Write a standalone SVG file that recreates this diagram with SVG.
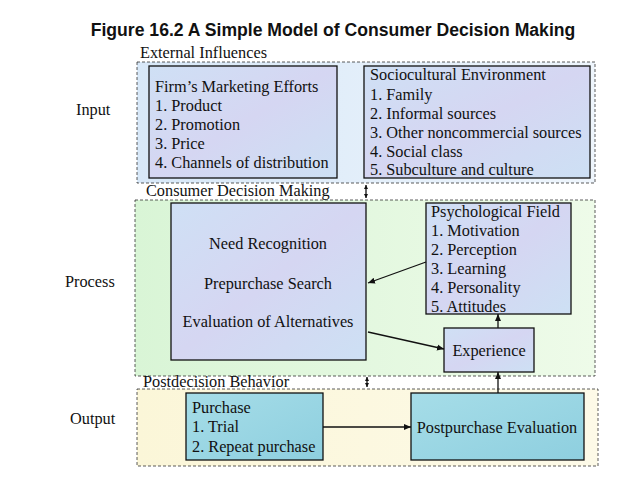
<svg xmlns="http://www.w3.org/2000/svg" width="638" height="479" viewBox="0 0 638 479">
<style>
text{font-family:"Liberation Serif",serif;font-size:16.3px;fill:#111}
.title{font-family:"Liberation Sans",sans-serif;font-weight:bold;font-size:17.6px}
.cont{stroke:#333;stroke-width:0.8;stroke-dasharray:3 2}
.box{fill:url(#bx);stroke:#111;stroke-width:1.3}
.water{fill:url(#wt);stroke:#111;stroke-width:1.3}
.c line{stroke:#111;stroke-width:1.3}
</style>
<defs>
<linearGradient id="gb" x1="0" y1="0" x2="1" y2="0"><stop offset="0" stop-color="#d8e8f8"/><stop offset="1" stop-color="#eef5fc"/></linearGradient>
<linearGradient id="gg" x1="0" y1="0" x2="1" y2="0"><stop offset="0" stop-color="#d9f5d6"/><stop offset="1" stop-color="#eefbe9"/></linearGradient>
<linearGradient id="gy" x1="0" y1="0" x2="1" y2="0"><stop offset="0" stop-color="#fbf6d8"/><stop offset="1" stop-color="#fdfae8"/></linearGradient>
<linearGradient id="bx" x1="0" y1="0" x2="1" y2="1"><stop offset="0" stop-color="#cfe0f5"/><stop offset="0.5" stop-color="#d5d6f2"/><stop offset="1" stop-color="#cde0f4"/></linearGradient>
<linearGradient id="wt" x1="0" y1="0" x2="1" y2="1"><stop offset="0" stop-color="#a6dde8"/><stop offset="1" stop-color="#8ecfdf"/></linearGradient>
<marker id="ar" markerWidth="8" markerHeight="8" refX="7" refY="4" orient="auto" markerUnits="userSpaceOnUse"><path d="M0,1 L7,4 L0,7 z" fill="#111"/></marker>
<marker id="sm" markerWidth="5" markerHeight="5" refX="4" refY="2.5" orient="auto-start-reverse" markerUnits="userSpaceOnUse"><path d="M0,0.5 L4,2.5 L0,4.5 z" fill="#111"/></marker>
</defs>
<rect width="638" height="479" fill="#fff"/>
<text class="title" x="333" y="36" text-anchor="middle">Figure 16.2  A Simple Model of Consumer Decision Making</text>
<g id="labels"><text x="76" y="115">Input</text><text x="65" y="287">Process</text><text x="70" y="424">Output</text></g>
<g id="external"><rect class="cont" x="137" y="62" width="458" height="121" fill="url(#gb)"/><text x="140" y="58">External Influences</text></g>
<g id="firm"><rect class="box" x="149" y="66" width="188" height="112"/>
<text x="155" y="92">Firm’s Marketing Efforts</text><text x="155" y="111">1. Product</text><text x="155" y="130">2. Promotion</text><text x="155" y="149">3. Price</text><text x="155" y="168">4. Channels of distribution</text></g>
<g id="socio"><rect class="box" x="364" y="66" width="226" height="112"/>
<text x="370" y="80">Sociocultural Environment</text><text x="370" y="100">1. Family</text><text x="370" y="119">2. Informal sources</text><text x="370" y="138">3. Other noncommercial sources</text><text x="370" y="157">4. Social class</text><text x="370" y="175">5. Subculture and culture</text></g>
<g id="cdm"><rect class="cont" x="135" y="200" width="460" height="176" fill="url(#gg)"/><text x="146" y="196">Consumer Decision Making</text></g>
<g id="need"><rect class="box" x="171" y="203" width="195" height="157"/>
<text x="268" y="249" text-anchor="middle">Need Recognition</text><text x="268" y="289" text-anchor="middle">Prepurchase Search</text><text x="268" y="327" text-anchor="middle">Evaluation of Alternatives</text></g>
<g id="psych"><rect class="box" x="426" y="203" width="145" height="111"/>
<text x="431" y="217">Psychological Field</text><text x="431" y="236">1. Motivation</text><text x="431" y="255">2. Perception</text><text x="431" y="274">3. Learning</text><text x="431" y="293">4. Personality</text><text x="431" y="312">5. Attitudes</text></g>
<g id="experience"><rect class="box" x="444" y="328" width="90" height="44"/><text x="489" y="356" text-anchor="middle">Experience</text></g>
<g id="post"><rect class="cont" x="137" y="389" width="461" height="77" fill="url(#gy)"/><text x="143" y="387">Postdecision Behavior</text></g>
<g id="purchase"><rect class="water" x="186" y="393" width="137" height="67"/>
<text x="192" y="413">Purchase</text><text x="192" y="432">1. Trial</text><text x="192" y="452">2. Repeat purchase</text></g>
<g id="postpurchase"><rect class="water" x="411" y="393" width="173" height="67"/><text x="497" y="433" text-anchor="middle">Postpurchase Evaluation</text></g>
<g class="c" id="connectors">
<line x1="366" y1="185" x2="366" y2="198" stroke-width="1" marker-start="url(#sm)" marker-end="url(#sm)"/>
<line x1="367" y1="377" x2="367" y2="387" stroke-width="1" marker-start="url(#sm)" marker-end="url(#sm)"/>
<line x1="426" y1="262" x2="368" y2="283" marker-end="url(#ar)"/>
<line x1="368" y1="332" x2="444" y2="349" marker-end="url(#ar)"/>
<line x1="498" y1="328" x2="498" y2="314" marker-end="url(#ar)"/>
<line x1="498" y1="393" x2="498" y2="372" marker-end="url(#ar)"/>
<line x1="323" y1="427" x2="411" y2="427" marker-end="url(#ar)"/>
</g>
</svg>
